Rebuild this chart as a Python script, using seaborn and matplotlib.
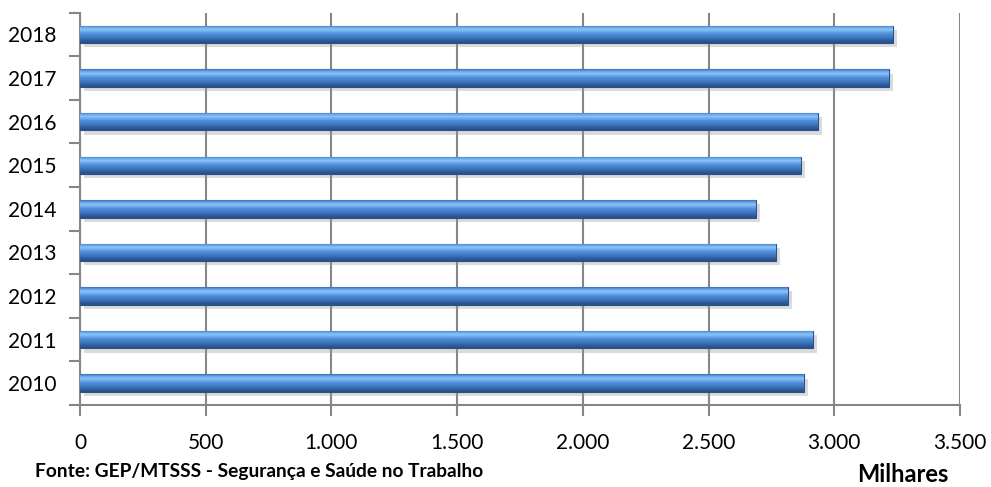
import numpy as np
import pandas as pd
import matplotlib
matplotlib.use("Agg")
import matplotlib.pyplot as plt
import matplotlib.patheffects as pe
from matplotlib.colors import LinearSegmentedColormap
import seaborn as sns

years = ["2010", "2011", "2012", "2013", "2014", "2015", "2016", "2017", "2018"]
values = [2878, 2914, 2815, 2767, 2687, 2866, 2934, 3216, 3232]
x_ticks = [0, 500, 1000, 1500, 2000, 2500, 3000, 3500]
x_tick_labels = ["0", "500", "1.000", "1.500", "2.000", "2.500", "3.000", "3.500"]
source_text = "Fonte: GEP/MTSSS - Segurança e Saúde no Trabalho"
unit_text = "Milhares"

sns.set_theme(style="white")
plt.rcParams["font.family"] = ["Lato", "DejaVu Sans"]

df = pd.DataFrame({"ano": years, "valor": values})
order = years[::-1]

fig = plt.figure(figsize=(9.91, 4.87), dpi=100)
ax = fig.add_axes([80 / 991, 1 - 405 / 487, 880 / 991, (405 - 12.7) / 487])

sns.barplot(data=df, y="ano", x="valor", order=order, orient="h",
            color="#4a86d0", width=0.4, ax=ax, zorder=3)

grad_colors = ["#3b6fb8", "#6aa8ec", "#8cc4f6", "#6aa6ea", "#4f8ad6",
               "#4580cb", "#3a6fb6", "#2f5c9a", "#284f86"]
cmap = LinearSegmentedColormap.from_list("bar", grad_colors)
grad = np.linspace(0, 1, 64).reshape(-1, 1)

for p in list(ax.patches):
    p.set_edgecolor("#2a5288")
    p.set_linewidth(0.8)
    p.set_path_effects([pe.SimplePatchShadow(offset=(3, -3), shadow_rgbFace="#999999", alpha=0.35),
                        pe.Normal()])
    x0, y0 = p.get_x(), p.get_y()
    w, h = p.get_width(), p.get_height()
    im = ax.imshow(grad, cmap=cmap, aspect="auto", extent=[x0, x0 + w, y0 + h, y0],
                   zorder=3.5, interpolation="bilinear")
    im.set_clip_path(p)

ax.set_xlim(0, 3500)
ax.set_ylim(len(years) - 0.5, -0.5)
ax.set_xticks(x_ticks)
ax.set_xticklabels(x_tick_labels)
ax.set_yticks(range(len(years)))
ax.set_yticklabels(order)
ax.set_yticks(np.arange(-0.5, len(years), 1.0), minor=True)
ax.set_xlabel("")
ax.set_ylabel("")

ax.grid(axis="x", color="#868686", linewidth=1.5, zorder=0)
ax.grid(axis="y", visible=False)
ax.set_axisbelow(True)

for s in ["top", "right"]:
    ax.spines[s].set_visible(False)
for s in ["left", "bottom"]:
    ax.spines[s].set_visible(True)
    ax.spines[s].set_color("#868686")
    ax.spines[s].set_linewidth(1.5)

ax.tick_params(axis="y", which="major", length=0, pad=17, labelsize=15, labelcolor="#000000")
ax.tick_params(axis="y", which="minor", length=8, width=1.5, color="#868686", left=True)
ax.tick_params(axis="x", which="major", length=8, width=1.5, color="#868686", bottom=True,
               pad=12, labelsize=15, labelcolor="#000000")

fig.text(35 / 991, 1 - 472 / 487, source_text, fontsize=13.8, fontweight="bold",
         ha="left", va="center", color="#000000")
fig.text(903 / 991, 1 / 487, unit_text, fontsize=17, fontweight="bold",
         ha="center", va="bottom", color="#000000")

fig.savefig("out.png", dpi=100)
